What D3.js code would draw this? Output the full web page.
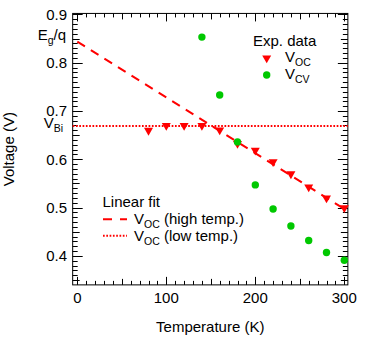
<!DOCTYPE html>
<html><head><meta charset="utf-8">
<script src="https://cdn.jsdelivr.net/npm/d3@7"></script>
<style>
html,body{margin:0;padding:0;background:#fff;}
text{font-family:"Liberation Sans",Arial,Helvetica,sans-serif;fill:#000;}
</style></head>
<body><svg id="c" width="382" height="337"></svg>
<script>
// Data
const tempOC = [80, 100, 120, 140, 160, 180, 200, 220, 240, 260, 280, 300];
const vOC    = [0.657, 0.667, 0.667, 0.667, 0.658, 0.630, 0.616, 0.592, 0.567, 0.540, 0.517, 0.497];
const tempCV = [140, 160, 180, 200, 220, 240, 260, 280, 300];
const vCV    = [0.853, 0.733, 0.636, 0.547, 0.497, 0.462, 0.432, 0.407, 0.391];
const fitHighT = [0, 300];
const fitHighV = [0.8435, 0.497];
const vBi = 0.669;
const egq = 0.8435;
const xTicks = [0, 100, 200, 300];
const yTicks = [0.4, 0.5, 0.6, 0.7, 0.8, 0.9];

const svg = d3.select("#c");
const x = d3.scaleLinear().domain([0, 300]).range([77.3, 344.3]);
const y = d3.scaleLinear().domain([0.9, 0.6]).range([14.4, 159.3]);
const xL = x(-5.2), xR = x(304), yT = y(0.902), yB = y(0.34);
const red = "#ff0000", green = "#00c800";

// frame
svg.append("rect").attr("x", xL).attr("y", yT).attr("width", xR - xL).attr("height", yB - yT)
  .attr("fill", "none").attr("stroke", "#000").attr("stroke-width", 1);

// ticks
const tk = svg.append("g").attr("stroke", "#000").attr("stroke-width", 1);
for (let i = 0; i <= 30; i++) {
  const t = i * 10;
  const len = (t % 100 === 0) ? 8 : (t % 50 === 0 ? 6 : 4);
  const px = Math.round(x(t)) + 0.5;
  tk.append("line").attr("x1", px).attr("x2", px).attr("y1", yB).attr("y2", yB - len);
  tk.append("line").attr("x1", px).attr("x2", px).attr("y1", yT).attr("y2", yT + len);
}
for (let i = 35; i <= 90; i++) {
  const v = i / 100;
  const len = (i % 10 === 0) ? 10 : (i % 5 === 0 ? 7 : 5);
  const py = Math.round(y(v)) + 0.5;
  tk.append("line").attr("x1", xL).attr("x2", xL + len).attr("y1", py).attr("y2", py);
  tk.append("line").attr("x1", xR).attr("x2", xR - len).attr("y1", py).attr("y2", py);
}

// tick labels
svg.append("g").selectAll("text").data(xTicks).join("text")
  .attr("x", d => x(d)).attr("y", 303).attr("text-anchor", "middle")
  .attr("font-size", 15).text(d => d);
svg.append("g").selectAll("text").data(yTicks).join("text")
  .attr("x", 67).attr("y", d => y(d)).attr("dy", "0.35em").attr("text-anchor", "end")
  .attr("font-size", 15).text(d => d.toFixed(1));

// special labels
function subLabel(g, xp, yp, main, sub, anchor, rest) {
  const t = g.append("text").attr("x", xp).attr("y", yp).attr("font-size", 15)
    .attr("text-anchor", anchor || "start");
  t.append("tspan").text(main);
  t.append("tspan").attr("font-size", 10.5).attr("dy", 4).text(sub);
  if (rest) t.append("tspan").attr("dy", -4).text(rest);
  return t;
}
subLabel(svg, 66, y(egq) - 2, "E", "g", "end", "/q");
subLabel(svg, 63, y(vBi) + 2, "V", "Bi", "end");

// axis titles
svg.append("text").attr("x", (xL + xR) / 2).attr("y", 332).attr("text-anchor", "middle")
  .attr("font-size", 15).text("Temperature (K)");
svg.append("text").attr("transform", `translate(13.5,${(yT + yB) / 2}) rotate(-90)`)
  .attr("text-anchor", "middle").attr("font-size", 15).text("Voltage (V)");

// fit lines
svg.append("line").attr("x1", xL).attr("x2", xR).attr("y1", y(vBi)).attr("y2", y(vBi))
  .attr("stroke", red).attr("stroke-width", 2).attr("stroke-dasharray", "1.7,1.6");
const line = d3.line().x(d => x(d[0])).y(d => y(d[1]));
svg.append("path").attr("d", line(fitHighT.map((t, i) => [t, fitHighV[i]])))
  .attr("fill", "none").attr("stroke", red).attr("stroke-width", 2).attr("stroke-dasharray", "9,7");

// markers
const tri = "M-4.5,-3.9L4.5,-3.9L0,3.9Z";
svg.append("g").selectAll("path").data(tempOC).join("path")
  .attr("d", tri).attr("fill", red)
  .attr("transform", (d, i) => `translate(${x(d)},${y(vOC[i])})`);
svg.append("g").selectAll("circle").data(tempCV).join("circle")
  .attr("cx", d => x(d)).attr("cy", (d, i) => y(vCV[i])).attr("r", 3.7).attr("fill", green);

// legend 1
svg.append("text").attr("x", 253).attr("y", 45.5).attr("font-size", 15).text("Exp. data");
svg.append("path").attr("d", tri).attr("fill", red).attr("transform", "translate(266.7,59.3)");
subLabel(svg, 285, 62, "V", "OC");
svg.append("circle").attr("cx", 266.7).attr("cy", 75).attr("r", 3.7).attr("fill", green);
subLabel(svg, 285, 79.3, "V", "CV");

// legend 2
svg.append("text").attr("x", 102.5).attr("y", 207).attr("font-size", 15).text("Linear fit");
svg.append("line").attr("x1", 103).attr("x2", 127).attr("y1", 219.3).attr("y2", 219.3)
  .attr("stroke", red).attr("stroke-width", 2).attr("stroke-dasharray", "9,8");
subLabel(svg, 134, 224, "V", "OC", "start", " (high temp.)");
svg.append("line").attr("x1", 103).attr("x2", 127).attr("y1", 235.7).attr("y2", 235.7)
  .attr("stroke", red).attr("stroke-width", 2).attr("stroke-dasharray", "1.7,1.6");
subLabel(svg, 134, 240.5, "V", "OC", "start", " (low temp.)");
</script></body></html>
